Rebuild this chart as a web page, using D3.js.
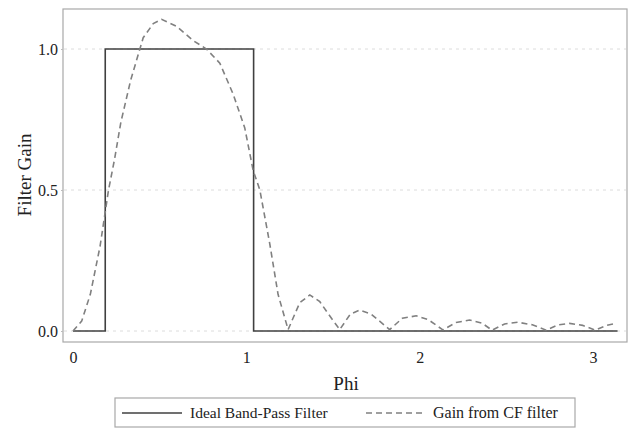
<!DOCTYPE html>
<html>
<head>
<meta charset="utf-8">
<script src="https://cdn.jsdelivr.net/npm/d3@7"></script>
<style>
  body { margin: 0; background: #fff; }
  text { font-family: "Liberation Serif", "DejaVu Serif", serif; fill: #222; }
</style>
</head>
<body>
<svg id="chart" width="636" height="442"></svg>
<script>
// ideal band-pass filter
const idealPhi  = [0, 0.186, 0.186, 1.042, 1.042, 3.1416];
const idealGain = [0, 0, 1, 1, 0, 0];

// gain of the CF filter
const cfPhi  = [0, 0.05, 0.10, 0.156, 0.205, 0.24, 0.276, 0.333, 0.405, 0.463, 0.511,
                0.598, 0.693, 0.77, 0.847, 0.924, 0.991, 1.039, 1.078, 1.135, 1.183,
                1.241, 1.308, 1.366, 1.424, 1.47, 1.539, 1.60, 1.654, 1.72, 1.827,
                1.90, 1.98, 2.05, 2.134, 2.21, 2.288, 2.36, 2.417, 2.49, 2.567,
                2.65, 2.73, 2.80, 2.865, 2.94, 3.013, 3.08, 3.134];
const cfGain = [0, 0.035, 0.13, 0.30, 0.50, 0.61, 0.74, 0.89, 1.04, 1.09, 1.105,
                1.08, 1.03, 1.00, 0.95, 0.84, 0.72, 0.57, 0.50, 0.31, 0.13,
                0.005, 0.10, 0.128, 0.104, 0.063, 0.005, 0.06, 0.074, 0.06, 0.005,
                0.045, 0.054, 0.04, 0.004, 0.03, 0.039, 0.028, 0.003, 0.025, 0.031,
                0.022, 0.003, 0.022, 0.027, 0.02, 0.003, 0.02, 0.027];

const xTicks = [0, 1, 2, 3];
const yTicks = [0, 0.5, 1];
const legendLabels = ["Ideal Band-Pass Filter", "Gain from CF filter"];

const svg = d3.select("#chart");
const box = { left: 63, top: 9, right: 627, bottom: 342 };

const x = d3.scaleLinear().domain([0, 3]).range([73, 593]);
const y = d3.scaleLinear().domain([0, 1]).range([331, 49]);

// plot border
svg.append("rect")
   .attr("x", box.left).attr("y", box.top)
   .attr("width", box.right - box.left).attr("height", box.bottom - box.top)
   .attr("fill", "none").attr("stroke", "#a8a8a8").attr("stroke-width", 1.2);

// grid lines
svg.append("g").selectAll("line").data(yTicks).join("line")
   .attr("x1", box.left + 1).attr("x2", box.right - 1)
   .attr("y1", d => y(d)).attr("y2", d => y(d))
   .attr("stroke", "#dcdcdc").attr("stroke-dasharray", "3,4");

// axes, labels only
const yAxis = svg.append("g")
   .attr("transform", `translate(${box.left},0)`)
   .call(d3.axisLeft(y).tickValues(yTicks).tickFormat(d3.format(".1f")).tickSize(2).tickPadding(3));
const xAxis = svg.append("g")
   .attr("transform", `translate(0,${box.bottom})`)
   .call(d3.axisBottom(x).tickValues(xTicks).tickFormat(d3.format("d")).tickSize(0).tickPadding(10));
[xAxis, yAxis].forEach(a => {
  a.select(".domain").remove();
  a.selectAll("line").attr("stroke", "#bbb");
  a.selectAll("text").style("font-size", "16px").attr("fill", "#222");
});

const line = d3.line().x(d => x(d[0])).y(d => y(d[1]));

svg.append("path")
   .datum(idealPhi.map((p, i) => [p, idealGain[i]]))
   .attr("d", line).attr("fill", "none")
   .attr("stroke", "#404040").attr("stroke-width", 1.6);

svg.append("path")
   .datum(cfPhi.map((p, i) => [p, cfGain[i]]))
   .attr("d", line).attr("fill", "none")
   .attr("stroke", "#808080").attr("stroke-width", 1.6)
   .attr("stroke-dasharray", "6,4");

// axis titles
svg.append("text").attr("x", 346).attr("y", 390)
   .attr("text-anchor", "middle").style("font-size", "19px").text("Phi");
svg.append("text")
   .attr("transform", "translate(31,175) rotate(-90)")
   .attr("text-anchor", "middle").style("font-size", "19px").text("Filter Gain");

// legend
const lg = svg.append("g");
lg.append("rect").attr("x", 115).attr("y", 398).attr("width", 460).attr("height", 29)
  .attr("fill", "#fff").attr("stroke", "#a8a8a8").attr("stroke-width", 1.2);
lg.append("line").attr("x1", 122).attr("x2", 182).attr("y1", 413).attr("y2", 413)
  .attr("stroke", "#404040").attr("stroke-width", 1.6);
lg.append("text").attr("x", 190).attr("y", 418).style("font-size", "15.5px").text(legendLabels[0]);
lg.append("line").attr("x1", 366).attr("x2", 426).attr("y1", 413).attr("y2", 413)
  .attr("stroke", "#808080").attr("stroke-width", 1.6).attr("stroke-dasharray", "6,4");
lg.append("text").attr("x", 433).attr("y", 418).style("font-size", "16px").text(legendLabels[1]);
</script>
</body>
</html>
